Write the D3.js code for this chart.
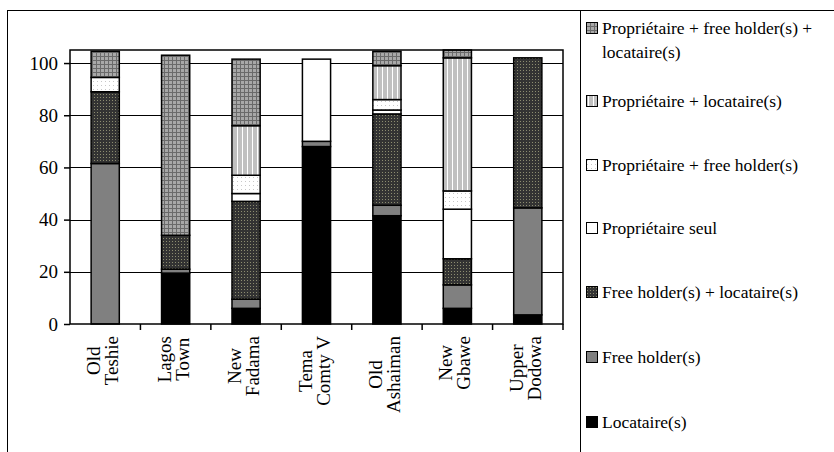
<!DOCTYPE html>
<html>
<head>
<meta charset="utf-8">
<script src="https://cdn.jsdelivr.net/npm/d3@7"></script>
<style>
  body { margin: 0; background: #fff; }
</style>
</head>
<body>
<script>
// Categories (two-line labels)
let categories = ["Old Teshie", "Lagos Town", "New Fadama", "Tema Comty V", "Old Ashaiman", "New Gbawe", "Upper Dodowa"];
let categoryLines = [["Old", "Teshie"], ["Lagos", "Town"], ["New", "Fadama"], ["Tema", "Comty V"], ["Old", "Ashaiman"], ["New", "Gbawe"], ["Upper", "Dodowa"]];

// Series values (stacked from bottom to top)
let locataires       = [0,    19.5, 6,    68,   41.5, 6,   3.5];
let freeHolders      = [61.5, 1.5,  3.5,  2,    4,    9,   41];
let freeHolderLoc    = [27.5, 13,   37.5, 0,    35,   10,  57.5];
let proprioSeul      = [0,    0,    3,    31.5, 1.5,  19,  0];
let proprioFreeHold  = [5.5,  0,    7,    0,    4,    7,   0];
let proprioLoc       = [0,    0,    19,   0,    13,   51,  0];
let proprioFreeLoc   = [10,   69,   25.5, 0,    5.5,  3,   0];

let seriesNames = ["Locataire(s)", "Free holder(s)", "Free holder(s) + locataire(s)", "Propriétaire seul",
  "Propriétaire + free holder(s)", "Propriétaire + locataire(s)", "Propriétaire + free holder(s) + locataire(s)"];
let seriesValues = [locataires, freeHolders, freeHolderLoc, proprioSeul, proprioFreeHold, proprioLoc, proprioFreeLoc];
let yTicks = [0, 20, 40, 60, 80, 100];

let width = 834, height = 452;
let plot = { left: 70, right: 563, top: 50, bottom: 324 };
let serif = '"Liberation Serif"';

let svg = d3.select("body").append("svg")
  .attr("width", width)
  .attr("height", height);

// Fill patterns
let defs = svg.append("defs");
let pGrid = defs.append("pattern").attr("id", "pGrid").attr("patternUnits", "userSpaceOnUse").attr("width", 4).attr("height", 4);
pGrid.append("rect").attr("width", 4).attr("height", 4).attr("fill", "#a8a8a8");
pGrid.append("rect").attr("width", 4).attr("height", 1).attr("fill", "#6a6a6a");
pGrid.append("rect").attr("width", 1).attr("height", 4).attr("fill", "#6a6a6a");

let pDark = defs.append("pattern").attr("id", "pDark").attr("patternUnits", "userSpaceOnUse").attr("width", 3).attr("height", 3);
pDark.append("rect").attr("width", 3).attr("height", 3).attr("fill", "#333");
pDark.append("rect").attr("x", 1).attr("y", 1).attr("width", 1).attr("height", 1).attr("fill", "#8c8c70");

let pStripe = defs.append("pattern").attr("id", "pStripe").attr("patternUnits", "userSpaceOnUse").attr("width", 5).attr("height", 4);
pStripe.append("rect").attr("width", 5).attr("height", 4).attr("fill", "#c0c0c0");
pStripe.append("rect").attr("x", 2).attr("width", 1).attr("height", 4).attr("fill", "#fff");

let pDots = defs.append("pattern").attr("id", "pDots").attr("patternUnits", "userSpaceOnUse").attr("width", 4).attr("height", 4);
pDots.append("rect").attr("width", 4).attr("height", 4).attr("fill", "#fff");
pDots.append("rect").attr("x", 1).attr("y", 1).attr("width", 1).attr("height", 1).attr("fill", "#c8c8c8");

let fills = ["#000", "#808080", "url(#pDark)", "#fff", "url(#pDots)", "url(#pStripe)", "url(#pGrid)"];

// Outer frame and legend separator
svg.append("rect").attr("x", 7.5).attr("y", 10.5).attr("width", width).attr("height", height)
  .attr("fill", "none").attr("stroke", "#000").attr("stroke-width", 1);
svg.append("line").attr("x1", 580.5).attr("x2", 580.5).attr("y1", 10.5).attr("y2", height)
  .attr("stroke", "#000").attr("stroke-width", 1);

// Scales
let x = d3.scaleBand().domain(categories).range([plot.left, plot.right]).paddingInner(0.6).paddingOuter(0.3);
let xOuter = d3.scaleBand().domain(categories).range([plot.left, plot.right]);
let y = d3.scaleLinear().domain([0, 105]).range([plot.bottom, plot.top]);

// Gridlines
svg.append("g").selectAll("line").data(yTicks.filter(d => d > 0)).enter().append("line")
  .attr("x1", plot.left).attr("x2", plot.right)
  .attr("y1", d => Math.round(y(d)) + 0.5).attr("y2", d => Math.round(y(d)) + 0.5)
  .attr("stroke", "#000").attr("stroke-width", 1);

// Stacked bars
let table = categories.map((c, i) => {
  let row = { cat: c };
  seriesNames.forEach((s, j) => row[s] = seriesValues[j][i]);
  return row;
});
let stacked = d3.stack().keys(seriesNames)(table);

svg.append("g").selectAll("g").data(stacked).enter().append("g")
  .attr("fill", (d, i) => fills[i])
  .selectAll("rect").data(d => d.filter(p => p[1] - p[0] > 0)).enter().append("rect")
  .attr("x", d => x(d.data.cat))
  .attr("width", x.bandwidth())
  .attr("y", d => y(d[1]))
  .attr("height", d => y(d[0]) - y(d[1]))
  .attr("stroke", "#000")
  .attr("stroke-width", 1.5);

// Plot border
svg.append("rect").attr("x", plot.left).attr("y", plot.top)
  .attr("width", plot.right - plot.left).attr("height", plot.bottom - plot.top)
  .attr("fill", "none").attr("stroke", "#000").attr("stroke-width", 1.5);

// Y axis
let yAxis = svg.append("g")
  .attr("transform", `translate(${plot.left},0)`)
  .call(d3.axisLeft(y).tickValues(yTicks).tickSize(6).tickPadding(6));
yAxis.select(".domain").remove();
yAxis.selectAll("line").attr("stroke", "#000").attr("stroke-width", 1.5);
yAxis.selectAll("text").style("font-size", "19px").style("font-family", serif).attr("fill", "#000");

// X axis ticks at band boundaries
svg.append("g").selectAll("line").data(categories).enter().append("line")
  .attr("x1", d => xOuter(d) + xOuter.bandwidth())
  .attr("x2", d => xOuter(d) + xOuter.bandwidth())
  .attr("y1", plot.bottom).attr("y2", plot.bottom + 6)
  .attr("stroke", "#000").attr("stroke-width", 1.5);

// X category labels (rotated, lines centred on each other)
let xl = svg.append("g").selectAll("text").data(categoryLines).enter().append("text")
  .attr("transform", (d, i) => `translate(${xOuter(categories[i]) + xOuter.bandwidth() / 2},336) rotate(-90)`)
  .attr("text-anchor", "middle")
  .style("font-family", serif)
  .style("font-size", "19px");
xl.each(function(lines) {
  let t = d3.select(this);
  let spans = t.selectAll("tspan").data(lines).enter().append("tspan")
    .attr("y", (d, i) => i === 0 ? -5 : 13)
    .text(d => d);
  let maxLen = d3.max(spans.nodes(), n => n.getComputedTextLength());
  spans.attr("x", -maxLen / 2);
});

// Legend (top item = top series)
let legendItems = seriesNames.map((s, j) => ({ name: s, fill: fills[j] })).reverse();
let legendY = [34, 107, 171, 234, 298, 363, 428];
let legend = svg.selectAll(".legend").data(legendItems).enter().append("g")
  .attr("class", "legend")
  .attr("transform", (d, i) => `translate(586,${legendY[i]})`);

legend.append("rect")
  .attr("x", 0.5).attr("y", -11.5)
  .attr("width", 11).attr("height", 11)
  .attr("fill", d => d.fill)
  .attr("stroke", "#000").attr("stroke-width", 1);

let lt = legend.append("text")
  .attr("x", 16)
  .style("font-family", serif)
  .style("font-size", "17.5px");
lt.each(function(d) {
  let t = d3.select(this);
  if (d.name.length > 40) {
    t.append("tspan").attr("x", 16).attr("y", 0).text("Propriétaire + free holder(s) +");
    t.append("tspan").attr("x", 16).attr("y", 24).text("locataire(s)");
  } else {
    t.text(d.name);
  }
});
</script>
</body>
</html>
